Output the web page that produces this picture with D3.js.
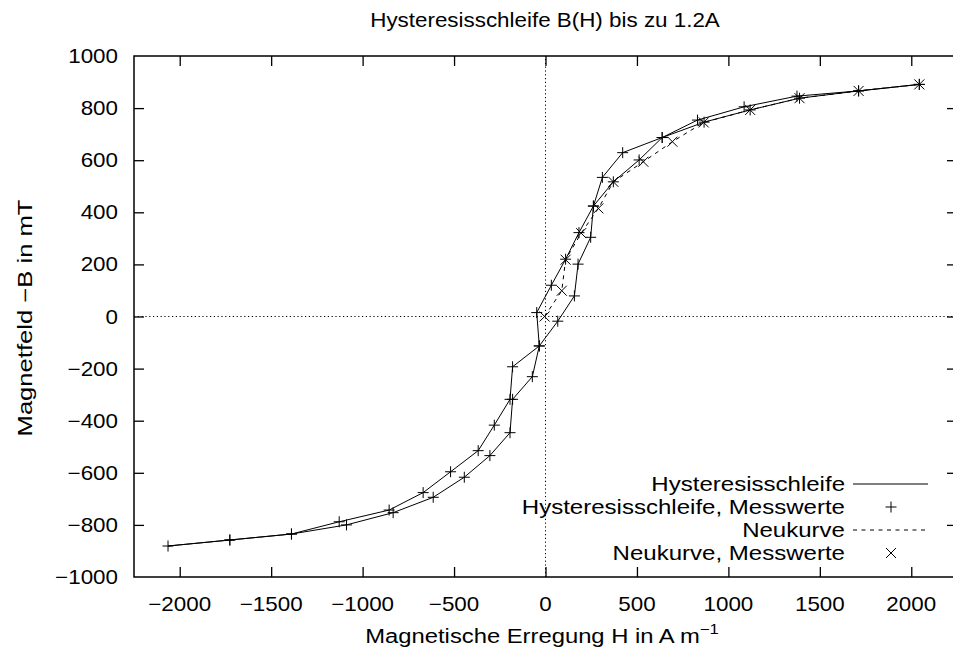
<!DOCTYPE html>
<html>
<head>
<meta charset="utf-8">
<script src="https://cdn.jsdelivr.net/npm/d3@7"></script>
<style>
  html, body { margin: 0; padding: 0; background: #fff; }
  svg { display: block; }
  text { font-family: "Liberation Sans", Arial, sans-serif; fill: #000; }
</style>
</head>
<body>
<svg id="chart" width="953" height="654"></svg>
<script>
// ---- data ----
const titleText = "Hysteresisschleife B(H) bis zu 1.2A";
const xLabelText = "Magnetische Erregung H in A m";
const yLabelText = "Magnetfeld \u2212B in mT";
const xTicks = [-2000, -1500, -1000, -500, 0, 500, 1000, 1500, 2000];
const yTicks = [-1000, -800, -600, -400, -200, 0, 200, 400, 600, 800, 1000];

// Hysteresis loop: descending branch then ascending branch
const loopH = [2044, 1712, 1375, 1086, 831, 638, 422, 311, 262, 183, 110, 32, -48, -34, -180, -194, -280, -368, -519, -669, -855, -1128, -1389, -1726, -2064,
               -1726, -1389, -1088, -833, -614, -444, -304, -194, -180, -72, -34, 67, 158, 178, 247, 262, 371, 512, 638, 867, 1119, 1389, 1712, 2044];
const loopB = [891, 866, 846, 805, 754, 687, 629, 534, 424, 322, 220, 120, 15, -113, -193, -318, -417, -515, -596, -676, -743, -788, -835, -858, -881,
               -858, -835, -800, -753, -694, -617, -534, -446, -318, -231, -113, -18, 79, 201, 304, 424, 517, 601, 687, 746, 793, 838, 866, 891];

// Neukurve (initial magnetisation curve)
const newH = [-5, 89, 110, 195, 289, 371, 535, 694, 865, 1119, 1389, 1712, 2044];
const newB = [0, 99, 218, 320, 415, 517, 594, 671, 745, 793, 838, 866, 891];

const legendLabels = ["Hysteresisschleife", "Hysteresisschleife, Messwerte", "Neukurve", "Neukurve, Messwerte"];

// ---- drawing ----
const svg = d3.select("#chart");
const SX = 1.12;       // horizontal stretch of the original text rendering
const FS = 20;

const x = d3.scaleLinear().domain([-2250, 2250]).range([134, 957]);
const y = d3.scaleLinear().domain([-1000, 1000]).range([577, 56]);

function stext(g, str, px, py, anchor, size, sx) {
  return g.append("text")
    .attr("transform", `translate(${px},${py}) scale(${sx || SX},1)`)
    .attr("text-anchor", anchor)
    .style("font-size", (size || FS) + "px")
    .text(str);
}

// zero axes (dotted)
svg.append("line").attr("x1", x(-2250)).attr("x2", x(2250)).attr("y1", y(0)).attr("y2", y(0))
  .attr("stroke", "#000").attr("stroke-width", 1).attr("stroke-dasharray", "1.2,2.6");
svg.append("line").attr("x1", x(0)).attr("x2", x(0)).attr("y1", y(-1000)).attr("y2", y(1000))
  .attr("stroke", "#000").attr("stroke-width", 1).attr("stroke-dasharray", "1.2,2.6");

// axes (inward ticks on all four sides)
const tickLen = 10;
function styleAxis(g) {
  g.select(".domain").remove();
  g.selectAll(".tick line").attr("stroke", "#000").attr("stroke-width", 1.3);
  g.selectAll(".tick text").remove();
}
svg.append("g").attr("transform", `translate(0,${y(-1000)})`)
  .call(d3.axisBottom(x).tickValues(xTicks).tickSize(-tickLen)).call(styleAxis);
svg.append("g").attr("transform", `translate(0,${y(1000)})`)
  .call(d3.axisTop(x).tickValues(xTicks).tickSize(-tickLen)).call(styleAxis);
svg.append("g").attr("transform", `translate(${x(-2250)},0)`)
  .call(d3.axisLeft(y).tickValues(yTicks.slice(1, -1)).tickSize(-tickLen)).call(styleAxis);
svg.append("g").attr("transform", `translate(${x(2250)},0)`)
  .call(d3.axisRight(y).tickValues(yTicks.slice(1, -1)).tickSize(-tickLen)).call(styleAxis);

const fmt = d => d3.format("d")(d).replace("-", "\u2212");
xTicks.forEach(t => stext(svg, fmt(t), x(t), 611, "middle"));
yTicks.forEach(t => stext(svg, fmt(t), 118, y(t) + 7, "end"));

// border
svg.append("rect").attr("x", x(-2250)).attr("y", y(1000))
  .attr("width", x(2250) - x(-2250)).attr("height", y(-1000) - y(1000))
  .attr("fill", "none").attr("stroke", "#000").attr("stroke-width", 1.5);

// title & axis labels
stext(svg, titleText, 545, 27, "middle");
const xl = stext(svg, xLabelText, 542, 643, "middle", 20, 1.19);
xl.append("tspan").attr("dy", -9).style("font-size", "14px").text("\u22121");
svg.append("text")
  .attr("transform", `translate(32,318) rotate(-90) scale(1.28,1)`)
  .attr("text-anchor", "middle").style("font-size", FS + "px").text(yLabelText);

// data series
const loopPts = loopH.map((h, i) => [h, loopB[i]]);
const newPts = newH.map((h, i) => [h, newB[i]]);
const line = d3.line().x(d => x(d[0])).y(d => y(d[1]));

svg.append("path").attr("d", line(loopPts)).attr("fill", "none").attr("stroke", "#000").attr("stroke-width", 1);
svg.append("path").attr("d", line(newPts)).attr("fill", "none").attr("stroke", "#000").attr("stroke-width", 1)
  .attr("stroke-dasharray", "4,4.5");

const plusPath = (cx, cy, r) => `M${cx - r},${cy}H${cx + r}M${cx},${cy - r}V${cy + r}`;
const crossPath = (cx, cy, r) => `M${cx - r},${cy - r}L${cx + r},${cy + r}M${cx - r},${cy + r}L${cx + r},${cy - r}`;

svg.append("g").selectAll("path").data(loopPts).join("path")
  .attr("d", d => plusPath(x(d[0]), y(d[1]), 5.5))
  .attr("stroke", "#000").attr("stroke-width", 1);
svg.append("g").selectAll("path").data(newPts).join("path")
  .attr("d", d => crossPath(x(d[0]), y(d[1]), 5))
  .attr("stroke", "#000").attr("stroke-width", 1);

// legend
const legY = [484, 507, 530, 553];
const lg = svg.append("g");
legendLabels.forEach((lab, i) => stext(lg, lab, 845, legY[i] + 7, "end", 21, 1.145));
lg.append("line").attr("x1", 853).attr("x2", 928).attr("y1", legY[0]).attr("y2", legY[0])
  .attr("stroke", "#000").attr("stroke-width", 1);
lg.append("path").attr("d", plusPath(891, legY[1], 5.5)).attr("stroke", "#000").attr("stroke-width", 1);
lg.append("line").attr("x1", 853).attr("x2", 928).attr("y1", legY[2]).attr("y2", legY[2])
  .attr("stroke", "#000").attr("stroke-width", 1).attr("stroke-dasharray", "4,4.5");
lg.append("path").attr("d", crossPath(891, legY[3], 5)).attr("stroke", "#000").attr("stroke-width", 1);
</script>
</body>
</html>
